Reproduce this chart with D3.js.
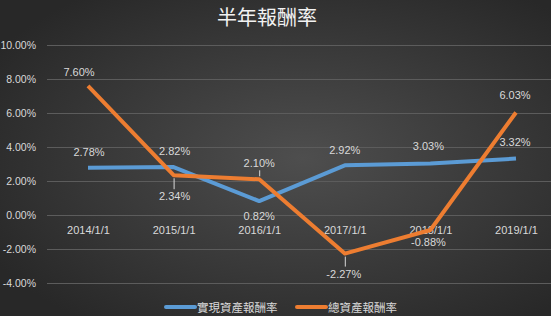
<!DOCTYPE html>
<html><head><meta charset="utf-8">
<script src="https://cdn.jsdelivr.net/npm/d3@7"></script>
<style>html,body{margin:0;padding:0;background:#333;}svg{display:block;}</style>
</head><body>
<script>
const categories = ["2014/1/1","2015/1/1","2016/1/1","2017/1/1","2018/1/1","2019/1/1"];
const realized = [2.78, 2.82, 0.82, 2.92, 3.03, 3.32];
const total = [7.60, 2.34, 2.10, -2.27, -0.88, 6.03];
const yTicks = [10, 8, 6, 4, 2, 0, -2, -4];
const seriesNames = ["實現資產報酬率", "總資產報酬率"];
const title = "半年報酬率";
const realizedPos = ["above","above","below","above","above","above"];
const totalPos = ["above","below","above","below","below","above"];

const W = 551, H = 316;
const svg = d3.select("body").append("svg").attr("width", W).attr("height", H);
const defs = svg.append("defs");
const grad = defs.append("radialGradient").attr("id","bg").attr("cx","55%").attr("cy","50%").attr("r","65%");
grad.append("stop").attr("offset","0%").attr("stop-color","#4e4e4e");
grad.append("stop").attr("offset","100%").attr("stop-color","#282828");
svg.append("rect").attr("width",W).attr("height",H).attr("fill","url(#bg)");

const x = d3.scalePoint().domain(categories).range([88, 516]);
const y = d3.scaleLinear().domain([-4, 10]).range([283, 45]);
const gridX0 = 47, gridX1 = 551;

svg.append("g").selectAll("line").data(yTicks).join("line")
  .attr("x1", gridX0).attr("x2", gridX1)
  .attr("y1", d => Math.round(y(d)) + 0.5).attr("y2", d => Math.round(y(d)) + 0.5)
  .attr("stroke", "#5c5c5c").attr("stroke-width", 1);

const font = "'Liberation Sans', Arial, sans-serif";
const yAxis = d3.axisLeft(y).tickValues(yTicks).tickSize(0).tickPadding(0)
  .tickFormat(d => d.toFixed(2) + "%");
const ya = svg.append("g").attr("transform", "translate(36,0)").call(yAxis);
ya.select(".domain").remove();
ya.selectAll("text").attr("fill", "#d9d9d9").style("font-family", font).style("font-size", "10.5px");

const xAxis = d3.axisBottom(x).tickSize(0).tickPadding(0);
const xa = svg.append("g").attr("transform", `translate(0,${y(0) + 11})`).call(xAxis);
xa.select(".domain").remove();
xa.selectAll("text").attr("fill", "#d9d9d9").style("font-family", font).style("font-size", "11px");

const line = d3.line().x((d, i) => x(categories[i])).y(d => y(d));
svg.append("path").datum(realized).attr("d", line).attr("fill", "none")
  .attr("stroke", "#5b9bd5").attr("stroke-width", 4).attr("stroke-linejoin", "round");
svg.append("path").datum(total).attr("d", line).attr("fill", "none")
  .attr("stroke", "#ed7d31").attr("stroke-width", 4).attr("stroke-linejoin", "round");

function labels(vals, pos, offsets) {
  const g = svg.append("g");
  vals.forEach((v, i) => {
    const px = x(categories[i]), py = y(v);
    const off = offsets[i];
    const lx = px + off[0], ly = py + off[1];
    g.append("text").attr("x", lx).attr("y", ly).attr("text-anchor", "middle")
      .attr("dominant-baseline", "central")
      .attr("fill", "#d9d9d9").style("font-family", font).style("font-size", "11px")
      .text(v.toFixed(2) + "%");
    if (off[2]) {
      const y1 = pos[i] === "above" ? ly + 7 : ly - 7;
      const y2 = pos[i] === "above" ? py - 3 : py + 3;
      g.append("line").attr("x1", px + 0.5).attr("x2", px + 0.5).attr("y1", y1).attr("y2", y2)
        .attr("stroke", "#d9d9d9").attr("stroke-width", 1);
    }
  });
}
labels(realized, realizedPos, [[1,-16],[1,-16],[0,15],[0,-15],[-2,-17],[-1,-17]]);
labels(total, totalPos, [[-9,-14],[1,21,true],[0,-16,true],[-1,20,true],[-2,12],[-1,-17]]);

svg.append("text").attr("x", 267).attr("y", 16).attr("text-anchor", "middle")
  .attr("dominant-baseline", "central").attr("fill", "#f2f2f2")
  .style("font-family", "'Noto Sans CJK TC', sans-serif").style("font-size", "20px")
  .text(title);

const legend = [{name: seriesNames[0], color: "#5b9bd5", x: 166}, {name: seriesNames[1], color: "#ed7d31", x: 297}];
const lg = svg.append("g");
legend.forEach(l => {
  lg.append("line").attr("x1", l.x).attr("x2", l.x + 29).attr("y1", 307).attr("y2", 307)
    .attr("stroke", l.color).attr("stroke-width", 4).attr("stroke-linecap", "round");
  lg.append("text").attr("x", l.x + 31).attr("y", 307).attr("dominant-baseline", "central")
    .attr("fill", "#d9d9d9").style("font-family", "'Noto Sans CJK TC', sans-serif").style("font-size", "11.5px")
    .text(l.name);
});
</script>
</body></html>
